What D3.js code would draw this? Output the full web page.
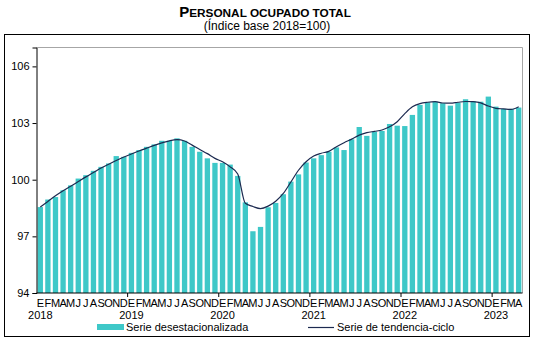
<!DOCTYPE html>
<html><head><meta charset="utf-8">
<script src="https://cdn.jsdelivr.net/npm/d3@7"></script>
<style>body{margin:0;background:#fff}svg{display:block;font-family:"Liberation Sans",Arial,sans-serif}</style>
</head><body>
<svg id="c" width="536" height="340"></svg>
<script>
const years = ["2018","2019","2020","2021","2022","2023"];
const monthLetters = ["E","F","M","A","M","J","J","A","S","O","N","D"];
const seasonal = [98.55,98.95,99.08,99.44,99.7,100.06,100.24,100.47,100.68,100.86,101.25,101.21,
  101.42,101.57,101.74,101.87,102.06,102.06,102.19,102.06,101.74,101.48,101.13,100.89,
  100.89,100.8,100.2,98.8,97.27,97.5,98.54,98.77,99.23,99.9,100.28,100.91,
  101.13,101.3,101.48,101.71,101.57,102.14,102.79,102.32,102.54,102.58,102.95,102.86,
  102.84,103.43,103.96,104.1,104.13,104.05,103.92,104.08,104.26,104.15,104.13,104.4,
  103.87,103.75,103.75,103.82];
const trend = [98.55,98.85,99.15,99.42,99.65,99.9,100.15,100.38,100.62,100.82,101.02,101.2,
  101.36,101.52,101.67,101.82,101.95,102.06,102.12,102.05,101.83,101.6,101.38,101.13,
  100.95,100.68,100.3,98.75,98.58,98.47,98.6,98.86,99.27,99.88,100.5,100.95,
  101.25,101.4,101.5,101.74,101.96,102.15,102.36,102.49,102.56,102.63,102.8,103.07,
  103.5,103.86,104.03,104.1,104.13,104.06,104.05,104.1,104.14,104.13,104.07,103.9,
  103.78,103.75,103.72,103.86];
const yTicks = [94,97,100,103,106];
const titleFirst = "P", titleRest = "ERSONAL OCUPADO TOTAL";
const subtitle = "(Índice base 2018=100)";
const legendLabels = ["Serie desestacionalizada","Serie de tendencia-ciclo"];

const svg = d3.select("#c");
const L = 36.5, R = 522.5, T = 47.5, B = 293;
const idx = d3.range(seasonal.length);
const x = d3.scaleBand().domain(idx).range([L, R]).paddingInner(0.3).paddingOuter(0.15);
const y = d3.scaleLinear().domain([94, 107]).range([B, T]);

// outer frame
svg.append("rect").attr("x",4.5).attr("y",34.5).attr("width",525).attr("height",302)
  .attr("fill","none").attr("stroke","#000").attr("stroke-width",1);
// plot frame (gray top/right)
svg.append("path").attr("d",`M${L},${T}H${R}V${B}`).attr("fill","none").attr("stroke","#a6a6a6");

// title
const t = svg.append("text").attr("x",265).attr("y",17).attr("text-anchor","middle")
  .attr("font-weight","bold").attr("fill","#000");
t.append("tspan").attr("font-size",15).text(titleFirst);
t.append("tspan").attr("font-size",11.8).text(titleRest);
svg.append("text").attr("x",267).attr("y",30).attr("text-anchor","middle")
  .attr("font-size",12).text(subtitle);

// bars
svg.append("g").selectAll("rect").data(seasonal).join("rect")
  .attr("x",(d,i)=>x(i)).attr("width",x.bandwidth())
  .attr("y",d=>y(d)).attr("height",d=>y(94)-y(d))
  .attr("fill","#3ec8c8");

// trend line
const line = d3.line().x((d,i)=>x(i)+x.bandwidth()/2).y(d=>y(d)).curve(d3.curveMonotoneX);
svg.append("path").datum(trend).attr("d",line).attr("fill","none")
  .attr("stroke","#1c2a50").attr("stroke-width",1.2);

// y axis
const ya = svg.append("g").attr("transform",`translate(${L},0)`)
  .call(d3.axisLeft(y).tickValues(yTicks).tickSize(4).tickPadding(3));
ya.select(".domain").attr("stroke","#000");
ya.selectAll("text").attr("font-size",11).attr("font-family","Liberation Sans, Arial, sans-serif").attr("fill","#000");

// x axis baseline and year ticks
const xs = d3.scaleLinear().domain([0, seasonal.length]).range([L, R]);
svg.append("line").attr("x1",L).attr("x2",R).attr("y1",B).attr("y2",B).attr("stroke","#000");
svg.append("g").selectAll("line").data(d3.range(12, seasonal.length, 12)).join("line")
  .attr("x1",d=>xs(d)).attr("x2",d=>xs(d)).attr("y1",B).attr("y2",B+4).attr("stroke","#000");

// month letters
svg.append("g").selectAll("text").data(idx).join("text")
  .attr("x",i=>x(i)+x.bandwidth()/2).attr("y",307).attr("text-anchor","middle")
  .attr("font-size",11).attr("fill","#000").text(i=>monthLetters[i%12]);
// year labels
svg.append("g").selectAll("text").data(years).join("text")
  .attr("x",(d,k)=>x(k*12)+x.bandwidth()/2).attr("y",319).attr("text-anchor","middle")
  .attr("font-size",11).attr("fill","#000").text(d=>d);

// legend
svg.append("rect").attr("x",97).attr("y",324).attr("width",27).attr("height",6).attr("fill","#3ec8c8");
svg.append("text").attr("x",126).attr("y",331).attr("font-size",11).text(legendLabels[0]);
svg.append("line").attr("x1",308).attr("x2",334).attr("y1",327.5).attr("y2",327.5).attr("stroke","#1c2a50").attr("stroke-width",1.2);
svg.append("text").attr("x",337).attr("y",331).attr("font-size",11).text(legendLabels[1]);
</script>
</body></html>
